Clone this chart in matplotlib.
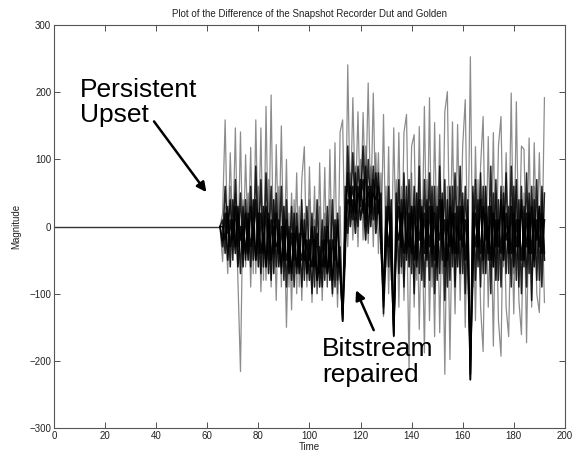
import numpy as np
import matplotlib
matplotlib.use("Agg")
import matplotlib.pyplot as plt

plt.rcParams['font.family'] = ['Liberation Sans', 'DejaVu Sans']

title = "Plot of the Difference of the Snapshot Recorder Dut and Golden"
xlabel = "Time"
ylabel = "Magnitude"
xticks = [0, 20, 40, 60, 80, 100, 120, 140, 160, 180, 200]
yticks = [-300, -200, -100, 0, 100, 200, 300]

# quiet period: t = 0..65 the difference is zero
quiet = [0] * 66
# noisy period: t = 66..192
s1 = [20, 159, -40, 110, -20, 147, -50, 141, -60, 107,
      -30, 118, -70, 159, -40, 147, -80, 179, -50, 196,
      -70, 122, -40, 150, -60, 100, -90, 50, -60, 80,
      -90, 70, 119, -80, 89, -60, 60, -100, 95, -70,
      88, -90, 115, -80, 125, -100, 141, 159, -60, 241,
      20, 192, 30, 171, 10, 170, 40, 214, 20, 199,
      10, 110, -40, 167, -60, 119, -80, 147, -50, 140,
      -70, 140, 167, -60, 120, 137, -80, 149, -50, 179,
      -60, 192, -90, 155, -40, 137, -70, 171, 201, -60,
      156, -80, 152, -40, 120, 189, -60, 253, -90, 119,
      -50, 90, 164, -70, 134, -60, 140, -80, 120, 164,
      -60, 110, -40, 199, -70, 186, -50, 120, 115, -60,
      132, -70, 125, -40, 110, -50, 192]
s2 = [-52, 30, -70, 60, -40, 50, -80, -216, 40, -60,
      50, -90, 40, -70, 60, -97, 30, -80, 70, -90,
      40, -110, 60, -90, 30, -150, 20, -124, 40, -100,
      30, -110, 20, -90, 40, -113, 10, -100, 30, -110,
      20, -90, 40, -104, 10, -120, 30, -141, 20, -30,
      80, -20, 90, -30, 100, -20, 120, -25, 90, -30,
      110, -40, 80, -134, 60, -100, 40, -164, 70, -120,
      60, -110, 40, -213, 80, -120, 50, -153, 40, -188,
      70, -140, 30, -164, 60, -158, 40, -220, 60, -198,
      40, -130, 60, -110, 40, -150, 30, -228, 50, -140,
      70, -120, -186, 60, -120, 40, -178, 50, -140, -193,
      60, -120, -164, 40, -130, 60, -110, -161, 50, -173,
      40, -120, 60, -100, -128, 40, -113]
s3 = [10, -40, 30, -60, 40, -30, 20, -70, 30, -50,
      20, -60, 40, -50, 10, -70, 30, -60, 20, -80,
      40, -60, 10, -70, 30, -90, 0, -80, 20, -70,
      -10, -90, 10, -70, -20, -100, 0, -80, -30, -90,
      0, -70, -20, -100, 10, -80, -30, -141, 60, -10,
      60, 10, 80, 0, 70, 20, 90, -10, 60, 10,
      80, 20, 50, -120, 30, -60, 40, -163, 50, -70,
      40, -90, 60, -60, 30, -100, 50, -70, 20, -90,
      40, -80, 60, -100, 30, -70, 50, -110, 40, -80,
      60, -90, 30, -70, 50, -100, 40, -228, 60, -80,
      40, -90, 60, -70, 30, -100, 50, -80, 40, -90,
      50, -70, 30, -90, 60, -80, 40, -100, 30, -90,
      50, -110, 40, -80, 30, -90, 50]
s4 = [-20, 60, -10, 40, -50, 70, -30, 50, -60, 40,
      -40, 60, -50, 90, -30, 70, -60, 80, -40, 60,
      -70, 50, -40, 60, -80, 40, -60, 30, -90, 20,
      -60, 40, -80, 30, -50, 20, -90, 40, -70, 10,
      -80, 30, -60, 40, -90, 20, -70, -138, -50, 120,
      20, 110, 10, 90, 30, 120, 0, 100, 20, 90,
      10, 80, -20, -130, -40, 60, -60, -150, -30, 70,
      -60, 80, -40, 70, -70, 60, -50, 90, -80, 70,
      -40, 80, -60, 60, -80, 90, -50, 70, -90, 60,
      -60, 80, -40, 90, -70, 60, -50, -200, -80, 70,
      -60, 80, -70, 60, -50, 90, -60, 70, -80, 60,
      -50, 80, -70, 90, -40, 70, -90, 60, -60, 80,
      -70, 60, -50, 70, -80, 60, -40]
s5 = [0, -20, 20, -30, 10, -40, 30, -20, 0, -40,
      10, -30, 0, -50, 20, -40, -10, -60, 10, -50,
      0, -30, -20, -60, 0, -50, -30, -70, -10, -60,
      -30, -50, -10, -70, -40, -60, -20, -80, -50, -60,
      -20, -70, -40, -80, -30, -60, -50, -141, -20, 40,
      30, 60, 20, 50, 40, 70, 10, 60, 30, 50,
      40, 60, 0, -100, 10, -30, 20, -163, 0, -20,
      20, -40, -10, -30, 30, -50, 0, -20, 30, -40,
      10, -30, 30, -50, 0, -20, 40, -60, 10, -30,
      20, -40, 0, -20, 30, -50, 10, -228, 20, -30,
      10, -40, 30, -20, 0, -50, 20, -30, 10, -40,
      30, -20, 0, -40, 20, -30, 10, -50, 0, -30,
      20, -40, 10, -20, 30, -40, 10]
s6 = [-30, 20, -50, 10, -20, 30, -60, 0, -40, 20,
      -50, 30, -20, 40, -60, 20, -40, 30, -70, 10,
      -40, 20, -60, 0, -50, 10, -70, -10, -50, 0,
      -70, 10, -50, -20, -80, 0, -60, -10, -90, -20,
      -60, 0, -80, -20, -50, 10, -70, -130, 0, 80,
      0, 40, -10, 60, 10, 40, -20, 50, 0, 70,
      -10, 40, -30, -110, -20, 30, -40, -160, -10, 30,
      -30, 40, -50, 20, -40, 30, -60, 40, -30, 20,
      -50, 30, -40, 20, -60, 40, -30, 10, -50, 30,
      -40, 20, -60, 30, -30, 10, -50, -220, -40, 20,
      -30, 40, -50, 20, -40, 30, -60, 10, -30, 40,
      -50, 20, -40, 30, -60, 10, -30, 40, -50, 20,
      -40, 30, -60, 10, -30, 20, -50]

series = [s1, s2, s3, s4, s5, s6]
styles = [(0.45, 0.9), (0.45, 0.9), (0.85, 1.1), (0.85, 1.1), (0.9, 1.2), (0.9, 1.2)]

fig = plt.figure(figsize=(5.74, 4.58), dpi=100)
ax = fig.add_axes([0.0941, 0.0655, 0.8900, 0.8795])

# zero-difference segment, drawn once
tq = np.arange(len(quiet))
ax.plot(tq, quiet, color='#333333', lw=1.0)

start = len(quiet) - 1
for s, (a, lw) in zip(series, styles):
    y = np.array([quiet[-1]] + s, dtype=float)
    t = np.arange(start, start + len(y))
    ax.plot(t, y, color='black', alpha=a, lw=lw)

ax.set_xlim(0, 200)
ax.set_ylim(-300, 300)
ax.set_xticks(xticks)
ax.set_yticks(yticks)
ax.tick_params(direction='in', top=True, right=True, labelsize=7, length=4,
               width=0.6, colors='#333333', labelcolor='#222222', pad=2)
for sp in ax.spines.values():
    sp.set_color('#555555')
    sp.set_linewidth(0.8)
ax.set_title(title, fontsize=7, color='#222222', pad=6)
ax.set_xlabel(xlabel, fontsize=7, color='#222222', labelpad=1)
ax.set_ylabel(ylabel, fontsize=7, color='#222222', labelpad=6)

ax.text(10.2, 222, "Persistent\nUpset", fontsize=19, va='top', ha='left',
        linespacing=1.1)
ax.annotate("", xy=(60.3, 48), xytext=(38.5, 160),
            arrowprops=dict(arrowstyle='-|>', color='black', lw=1.8,
                            mutation_scale=14))
ax.text(104.9, -165, "Bitstream\nrepaired", fontsize=19, va='top', ha='left',
        linespacing=1.1)
ax.annotate("", xy=(117.8, -91), xytext=(125.6, -158),
            arrowprops=dict(arrowstyle='-|>', color='black', lw=1.8,
                            mutation_scale=14))

fig.savefig("out.png", dpi=100)
